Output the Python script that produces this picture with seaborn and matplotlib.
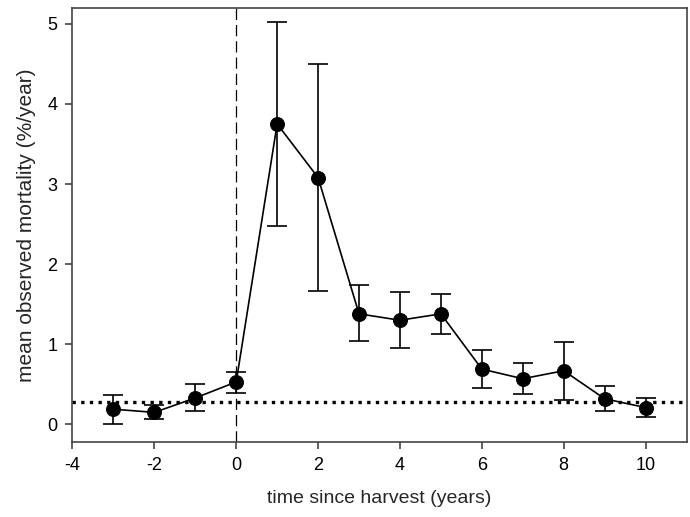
import pandas as pd
import matplotlib.pyplot as plt
import seaborn as sns

years = [-3, -2, -1, 0, 1, 2, 3, 4, 5, 6, 7, 8, 9, 10]
mortality = [0.19, 0.15, 0.33, 0.53, 3.75, 3.08, 1.38, 1.30, 1.38, 0.69, 0.57, 0.67, 0.32, 0.21]
err_low = [0.00, 0.07, 0.17, 0.39, 2.48, 1.67, 1.04, 0.95, 1.13, 0.46, 0.38, 0.30, 0.17, 0.09]
err_high = [0.37, 0.24, 0.50, 0.66, 5.02, 4.50, 1.74, 1.65, 1.63, 0.93, 0.77, 1.03, 0.48, 0.33]
baseline = 0.28


def main():
    data = pd.DataFrame({'year': years, 'mortality': mortality,
                         'low': err_low, 'high': err_high})

    sns.set_style('ticks')
    plt.rcParams['font.family'] = ['Liberation Sans', 'DejaVu Sans']
    plt.rcParams['axes.unicode_minus'] = False

    fig, ax = plt.subplots(figsize=(6.9, 5.17), dpi=100)
    ax.errorbar(data['year'], data['mortality'],
                yerr=[data['mortality'] - data['low'], data['high'] - data['mortality']],
                fmt='none', ecolor='black', elinewidth=1.2, capsize=7, capthick=1.2, zorder=2)
    sns.lineplot(x='year', y='mortality', data=data, color='black', linewidth=1.2,
                 marker='o', markersize=10, markeredgecolor='black', ax=ax, zorder=3)
    ax.axhline(baseline, color='black', linestyle=(0, (1, 1.6)), linewidth=2.4, zorder=1)
    ax.axvline(0, color='black', linestyle=(0, (9, 4)), linewidth=0.9, zorder=1)

    ax.set_xlim(-4, 11)
    ax.set_ylim(-0.22, 5.2)
    ax.set_xticks(range(-4, 11, 2))
    ax.set_yticks(range(0, 6))
    ax.tick_params(direction='out', length=5, width=1.2, labelsize=13, pad=6,
                   colors='#444444', labelcolor='black')
    for spine in ax.spines.values():
        spine.set_visible(True)
        spine.set_linewidth(1.2)
        spine.set_color('#444444')
    ax.set_xlabel('time since harvest (years)', fontsize=14, labelpad=11)
    ax.set_ylabel('mean observed mortality (%/year)', fontsize=15, labelpad=8)
    fig.subplots_adjust(left=0.105, right=0.995, top=0.985, bottom=0.145)
    fig.savefig('out.png')


if __name__ == "__main__":
    main()
